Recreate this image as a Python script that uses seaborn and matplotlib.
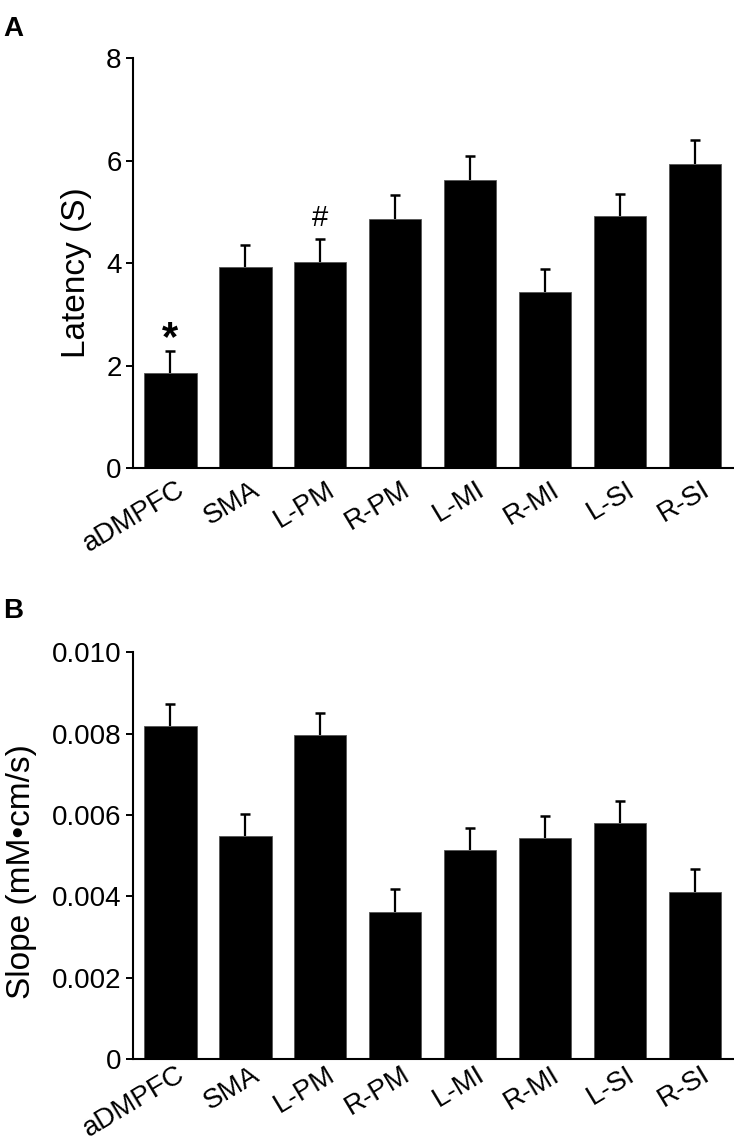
import numpy as np
import pandas as pd
import matplotlib
matplotlib.use("Agg")
import matplotlib.pyplot as plt
import matplotlib.transforms as mtransforms
import seaborn as sns

# Regioes corticais
regions = ["aDMPFC", "SMA", "L-PM", "R-PM", "L-MI", "R-MI", "L-SI", "R-SI"]

# Painel A: latencia (s) e erro padrao
latency = [1.85, 3.92, 4.03, 4.87, 5.62, 3.44, 4.92, 5.93]
latency_err = [0.43, 0.43, 0.45, 0.46, 0.47, 0.44, 0.44, 0.47]
latency_marks = ["*", "", "#", "", "", "", "", ""]

# Painel B: inclinacao (mM*cm/s) e erro padrao
slope = [0.00820, 0.00549, 0.00798, 0.00361, 0.00515, 0.00543, 0.00580, 0.00411]
slope_err = [0.00053, 0.00054, 0.00054, 0.00058, 0.00054, 0.00055, 0.00054, 0.00056]

sns.set_style("ticks")
plt.rcParams["font.family"] = ["Liberation Sans", "DejaVu Sans"]
for key in ["text.color", "axes.labelcolor", "xtick.color", "ytick.color", "axes.edgecolor"]:
    plt.rcParams[key] = "black"

fig = plt.figure(figsize=(7.34, 11.42), dpi=100)
ax_a = fig.add_axes([0.181, 0.590, 0.817, 0.359])
ax_b = fig.add_axes([0.181, 0.0727, 0.817, 0.356])


def draw_panel(ax, values, errors, ylim, yticks, yticklabels, ylabel, label_xy, xpad):
    df = pd.DataFrame({"region": regions, "value": values})
    sns.barplot(data=df, x="region", y="value", color="black", width=0.7,
                saturation=1, edgecolor="#555555", linewidth=0.6, ax=ax)
    x = np.arange(len(values))
    eb = ax.errorbar(x, values, yerr=[np.zeros(len(errors)), errors], fmt="none",
                     ecolor="black", elinewidth=1.6, capsize=3.5, capthick=1.8)
    # so a barra superior do erro, sem o traco inferior
    eb[1][0].set_visible(False)
    ax.set_xlim(-0.5, len(values) - 0.5)
    ax.set_ylim(*ylim)
    ax.set_yticks(yticks)
    ax.set_yticklabels(yticklabels, fontsize=20)
    ax.set_xticks(x)
    ax.set_xticklabels(regions, fontsize=20, rotation=31, ha="right",
                       rotation_mode="anchor")
    ax.tick_params(axis="x", length=0, pad=xpad)
    ax.tick_params(axis="y", length=5, width=1.4, pad=3, color="black")
    # desloca os rotulos um pouco para a direita
    shift = mtransforms.ScaledTranslation(6 / 100, 0, fig.dpi_scale_trans)
    for lbl in ax.get_xticklabels():
        lbl.set_transform(lbl.get_transform() + shift)
    ax.set_xlabel("")
    ax.set_ylabel(ylabel, fontsize=24)
    ax.yaxis.set_label_coords(*label_xy)
    for side in ["top", "right"]:
        ax.spines[side].set_visible(False)
    for side in ["left", "bottom"]:
        ax.spines[side].set_linewidth(1.5)
        ax.spines[side].set_color("black")


draw_panel(ax_a, latency, latency_err, (0, 8), [0, 2, 4, 6, 8],
           ["0", "2", "4", "6", "8"], "Latency (S)", (-0.068, 0.478), 6)
draw_panel(ax_b, slope, slope_err, (0, 0.010),
           [0, 0.002, 0.004, 0.006, 0.008, 0.010],
           ["0", "0.002", "0.004", "0.006", "0.008", "0.010"],
           "Slope (mM\u2022cm/s)", (-0.16, 0.462), 2)

# Marcas de significancia
for i, mark in enumerate(latency_marks):
    if mark == "*":
        ax_a.text(i, latency[i] + latency_err[i] - 0.15, mark, ha="center",
                  va="bottom", fontsize=30, fontweight="bold")
    elif mark == "#":
        ax_a.text(i, latency[i] + latency_err[i] + 0.12, mark, ha="center",
                  va="bottom", fontsize=21)

fig.text(0.004, 0.975, "A", fontsize=20, fontweight="bold", va="center")
fig.text(0.004, 0.465, "B", fontsize=20, fontweight="bold", va="center")

fig.savefig("out.png", dpi=100)
